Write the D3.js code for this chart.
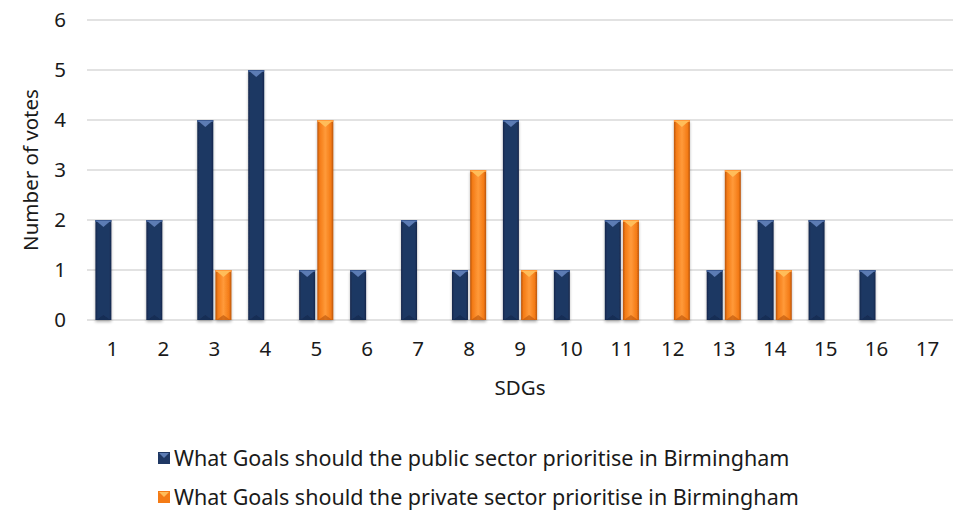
<!DOCTYPE html>
<html>
<head>
<meta charset="utf-8">
<script src="https://cdn.jsdelivr.net/npm/d3@7/dist/d3.min.js"></script>
<style>
  html, body { margin: 0; padding: 0; background: #fff; }
  svg text { font-family: "Noto Sans", Roboto, sans-serif; fill: #1a1a1a; }
</style>
</head>
<body>
<svg id="chart" width="962" height="516"></svg>
<script>
// SDG numbers on the x axis
const sdgs = ["1","2","3","4","5","6","7","8","9","10","11","12","13","14","15","16","17"];
// Votes for each goal
const publicVotes  = [2, 2, 4, 5, 1, 1, 2, 1, 4, 1, 2, 0, 1, 2, 2, 1, 0];
const privateVotes = [0, 0, 1, 0, 4, 0, 0, 3, 1, 0, 2, 4, 3, 1, 0, 0, 0];
const seriesNames = [
  "What Goals should the public sector prioritise in Birmingham",
  "What Goals should the private sector prioritise in Birmingham"
];
const yTicks = [0, 1, 2, 3, 4, 5, 6];

const svg = d3.select("#chart");
const margin = { left: 87, right: 9, top: 20, bottom: 196 };
const W = 962, H = 516;
const axisFont = 20.5;

const x = d3.scaleBand().domain(sdgs).range([margin.left, W - margin.right]).paddingInner(0.33).paddingOuter(0.165);
const xs = d3.scaleBand().domain([0, 1]).range([0, x.bandwidth()]).paddingInner(0.12);
const y = d3.scaleLinear().domain([0, 6]).range([H - margin.bottom, margin.top]);

const palettes = [
  { base: "#1f3864", dark: "#14264a", light: "#3b5a92", tip: "#5c7cb4" },
  { base: "#f47b16", dark: "#b9540a", light: "#ff9a3a", tip: "#ffbd5a" }
];

const defs = svg.append("defs");
palettes.forEach((p, i) => {
  const g = defs.append("linearGradient").attr("id", "bar" + i).attr("x1", 0).attr("x2", 1).attr("y1", 0).attr("y2", 0);
  g.append("stop").attr("offset", 0).attr("stop-color", p.dark);
  g.append("stop").attr("offset", 0.15).attr("stop-color", p.base);
  g.append("stop").attr("offset", 0.5).attr("stop-color", i ? p.light : p.base);
  g.append("stop").attr("offset", 0.85).attr("stop-color", p.base);
  g.append("stop").attr("offset", 1).attr("stop-color", p.dark);
});
const shadow = defs.append("filter").attr("id", "shadow").attr("x", "-50%").attr("y", "-10%").attr("width", "200%").attr("height", "130%");
shadow.append("feGaussianBlur").attr("in", "SourceAlpha").attr("stdDeviation", 1.5).attr("result", "b");
shadow.append("feOffset").attr("dx", 0).attr("dy", 1.5).attr("result", "o");
shadow.append("feComponentTransfer").append("feFuncA").attr("type", "linear").attr("slope", 0.3);
const merge = shadow.append("feMerge");
merge.append("feMergeNode");
merge.append("feMergeNode").attr("in", "SourceGraphic");

// gridlines
svg.append("g").selectAll("line").data(yTicks).join("line")
  .attr("x1", margin.left).attr("x2", W - margin.right)
  .attr("y1", d => y(d)).attr("y2", d => y(d))
  .attr("stroke", "#d9d9d9").attr("stroke-width", 1.5);

// y axis labels
const yAxis = d3.axisLeft(y).tickValues(yTicks).tickSize(0).tickPadding(21).tickFormat(d3.format("d"));
svg.append("g").attr("transform", `translate(${margin.left},0)`).call(yAxis)
  .call(g => g.select(".domain").remove())
  .call(g => g.selectAll("text").attr("font-size", axisFont).attr("font-family", "'Noto Sans', sans-serif").attr("fill", "#1a1a1a"));

// x axis labels
const xAxis = d3.axisBottom(x).tickSize(0).tickPadding(21);
svg.append("g").attr("transform", `translate(0,${y(0)})`).call(xAxis)
  .call(g => g.select(".domain").remove())
  .call(g => g.selectAll("text").attr("font-size", axisFont).attr("font-family", "'Noto Sans', sans-serif").attr("fill", "#1a1a1a"));

// bars
const series = [publicVotes, privateVotes];
series.forEach((vals, si) => {
  const p = palettes[si];
  const data = sdgs.map((s, i) => ({ s, v: vals[i] })).filter(d => d.v > 0);
  const g = svg.append("g");
  const bars = g.selectAll("g").data(data).join("g").attr("filter", "url(#shadow)");
  bars.append("rect")
    .attr("x", d => x(d.s) + xs(si)).attr("width", xs.bandwidth())
    .attr("y", d => y(d.v)).attr("height", d => y(0) - y(d.v))
    .attr("fill", `url(#bar${si})`);
  bars.append("rect")
    .attr("x", d => x(d.s) + xs(si)).attr("width", xs.bandwidth())
    .attr("y", d => y(d.v)).attr("height", 2)
    .attr("fill", p.light);
  bars.append("path")
    .attr("d", d => {
      const x0 = x(d.s) + xs(si), w = xs.bandwidth(), t = y(d.v);
      return `M${x0 + 1},${t + 1}L${x0 + w - 1},${t + 1}L${x0 + w / 2},${t + 7}Z`;
    })
    .attr("fill", p.tip);
  bars.append("path")
    .attr("d", d => {
      const x0 = x(d.s) + xs(si), w = xs.bandwidth(), b = y(0);
      return `M${x0 + 1},${b}L${x0 + w - 1},${b}L${x0 + w / 2},${b - 5}Z`;
    })
    .attr("fill", p.dark).attr("opacity", 0.6);
});

// axis titles
svg.append("text").attr("x", (margin.left + W - margin.right) / 2).attr("y", 395)
  .attr("text-anchor", "middle").attr("font-size", axisFont).text("SDGs");
svg.append("text").attr("transform", `translate(38,${y(3)}) rotate(-90)`)
  .attr("text-anchor", "middle").attr("font-size", axisFont).text("Number of votes");

// legend
const legend = svg.append("g");
seriesNames.forEach((name, i) => {
  const ly = 458 + i * 39;
  const p = palettes[i];
  legend.append("rect").attr("x", 158).attr("y", ly - 6).attr("width", 12).attr("height", 12).attr("fill", p.base);
  legend.append("path").attr("d", `M159,${ly - 5}L169,${ly - 5}L164,${ly}Z`).attr("fill", p.tip);
  legend.append("text").attr("x", 174).attr("y", ly).attr("dy", "0.35em").attr("font-size", 21.5).text(name);
});
</script>
</body>
</html>
